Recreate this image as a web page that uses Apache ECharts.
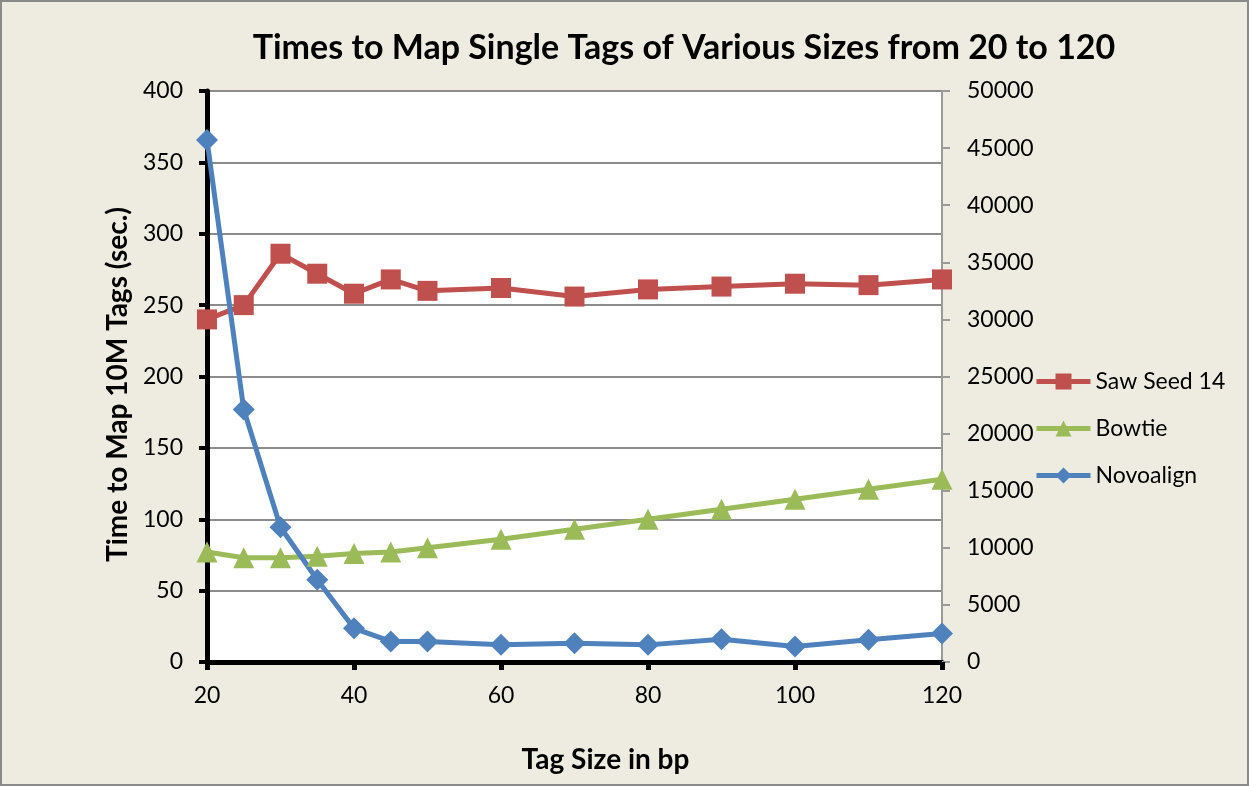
<!DOCTYPE html>
<html>
<head>
<meta charset="utf-8">
<script src="https://cdn.jsdelivr.net/npm/echarts@6/dist/echarts.min.js"></script>
<style>
  html, body { margin: 0; padding: 0; background: #EEECE1; }
  #chart { width: 1249px; height: 786px; }
</style>
</head>
<body>
<div id="chart"></div>
<script>
// Tag sizes (bp)
const tagSizes = [20, 25, 30, 35, 40, 45, 50, 60, 70, 80, 90, 100, 110, 120];
// Seconds to map 10M tags (primary axis)
const sawSeed14 = [240, 250, 286, 272, 258, 268, 260, 262, 256, 261, 263, 265, 264, 268];
const bowtie = [77, 73, 73, 74, 76, 77, 80, 86, 93, 100, 107, 114, 121, 128];
// Novoalign plotted against the secondary axis
const novoalign = [45700, 22100, 11800, 7200, 2950, 1800, 1800, 1500, 1650, 1500, 2000, 1350, 1950, 2500];

const FONT = 'Lato';

function pairs(values) {
  return tagSizes.map((x, i) => [x, values[i]]);
}

const chart = echarts.init(document.getElementById('chart'));
chart.setOption({
  backgroundColor: '#EEECE1',
  textStyle: { fontFamily: FONT },
  graphic: [{
    type: 'rect', silent: true, z: 100,
    shape: { x: 1, y: 1, width: 1247, height: 784 },
    style: { fill: 'none', stroke: '#8a8a8a', lineWidth: 2 }
  }],
  title: {
    text: 'Times to Map Single Tags of Various Sizes from 20 to 120',
    left: 679, top: 26, textAlign: 'center',
    textStyle: { fontFamily: FONT, fontWeight: 'bold', fontSize: 34, color: '#000' }
  },
  legend: {
    orient: 'vertical',
    left: 1029, top: 365,
    itemWidth: 54, itemHeight: 20, itemGap: 24,
    lineStyle: { width: 5 },
    textStyle: { fontFamily: FONT, fontSize: 23, color: '#000' },
    data: ['Saw Seed 14', 'Bowtie', 'Novoalign']
  },
  grid: {
    left: 207, right: 307, top: 91, bottom: 124,
    show: true, backgroundColor: '#ffffff', borderWidth: 0
  },
  xAxis: {
    type: 'value', min: 20, max: 120, interval: 20,
    name: 'Tag Size in bp', nameLocation: 'middle', nameGap: 84,
    nameTextStyle: { fontFamily: FONT, fontWeight: 'bold', fontSize: 28, color: '#000', padding: [0, 0, 0, 62] },
    axisLine: { lineStyle: { color: '#000', width: 5 } },
    axisTick: { show: true, length: 8, lineStyle: { color: '#000', width: 5 } },
    axisLabel: { fontFamily: FONT, fontSize: 23, color: '#000', margin: 22 },
    splitLine: { show: false }
  },
  yAxis: [
    {
      type: 'value', min: 0, max: 400, interval: 50, position: 'left',
      name: 'Time to Map 10M Tags (sec.)', nameLocation: 'middle', nameGap: 74,
      nameTextStyle: { fontFamily: FONT, fontWeight: 'bold', fontSize: 28, color: '#000', padding: [0, 16, 0, 0] },
      axisLine: { show: true, lineStyle: { color: '#000', width: 5 } },
      axisTick: { show: true, length: 8, lineStyle: { color: '#000', width: 4 } },
      axisLabel: { fontFamily: FONT, fontSize: 23, color: '#000', margin: 24 },
      splitLine: { show: true, lineStyle: { color: '#8c8c8c', width: 2 } }
    },
    {
      type: 'value', min: 0, max: 50000, interval: 5000, position: 'right',
      axisLine: { show: true, lineStyle: { color: '#9a9a9a', width: 2 } },
      axisTick: { show: true, length: 8, lineStyle: { color: '#9a9a9a', width: 2 } },
      axisLabel: { fontFamily: FONT, fontSize: 23, color: '#000', margin: 25, formatter: v => String(v) },
      splitLine: { show: false }
    }
  ],
  series: [
    {
      name: 'Saw Seed 14', type: 'line', yAxisIndex: 0, data: pairs(sawSeed14),
      symbol: 'rect', symbolSize: 20,
      lineStyle: { color: '#C0504D', width: 5 },
      itemStyle: { color: '#C0504D' }
    },
    {
      name: 'Bowtie', type: 'line', yAxisIndex: 0, data: pairs(bowtie),
      symbol: 'triangle', symbolSize: 21,
      lineStyle: { color: '#9BBB59', width: 5 },
      itemStyle: { color: '#9BBB59' }
    },
    {
      name: 'Novoalign', type: 'line', yAxisIndex: 1, data: pairs(novoalign),
      symbol: 'diamond', symbolSize: 22,
      lineStyle: { color: '#4F81BD', width: 5 },
      itemStyle: { color: '#4F81BD' }
    }
  ],
  animation: false
});
</script>
</body>
</html>
